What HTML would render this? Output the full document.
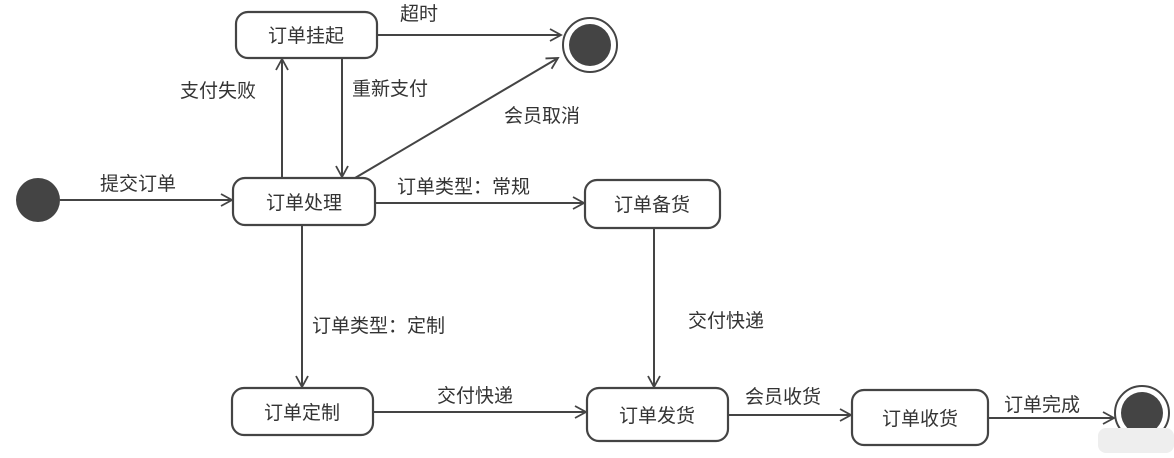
<!DOCTYPE html>
<html><head><meta charset="utf-8"><style>
body{margin:0;background:#fff;}
svg text{font-family:"Liberation Sans","Noto Sans CJK SC",sans-serif;font-size:19px;fill:#333;}
</style></head><body>
<svg width="1174" height="453" viewBox="0 0 1174 453" xmlns="http://www.w3.org/2000/svg">
<defs><marker id="a" markerWidth="14" markerHeight="14" refX="12" refY="7" orient="auto" markerUnits="userSpaceOnUse"><path d="M1,1 L12,7 L1,13" fill="none" stroke="#444" stroke-width="1.8"/></marker></defs>
<rect width="1174" height="453" fill="#fff"/>
<g fill="#fff" stroke="#444" stroke-width="2.2">
<rect x="236" y="12" width="141" height="46" rx="12"/>
<rect x="233" y="178" width="142" height="47" rx="12"/>
<rect x="585" y="180" width="135" height="48" rx="12"/>
<rect x="232" y="388" width="141" height="47" rx="12"/>
<rect x="587" y="388" width="141" height="53" rx="12"/>
<rect x="852" y="390" width="136" height="55" rx="12"/>
</g>
<circle cx="38" cy="200" r="22" fill="#444"/>
<circle cx="590" cy="45" r="27" fill="#fff" stroke="#444" stroke-width="2"/>
<circle cx="590" cy="45" r="21" fill="#444"/>
<circle cx="1142" cy="413" r="27" fill="#fff" stroke="#444" stroke-width="2"/>
<circle cx="1142" cy="413" r="21" fill="#444"/>
<rect x="1098" y="428" width="76" height="25" rx="8" fill="#eee"/>
<g stroke="#444" stroke-width="2" fill="none" marker-end="url(#a)">
<line x1="60" y1="200" x2="232" y2="200"/>
<line x1="282" y1="178" x2="282" y2="59"/>
<line x1="342" y1="58" x2="342" y2="177"/>
<line x1="377" y1="35" x2="561" y2="35"/>
<line x1="355" y1="178" x2="558" y2="58"/>
<line x1="375" y1="203" x2="584" y2="203"/>
<line x1="302" y1="225" x2="302" y2="387"/>
<line x1="373" y1="412" x2="586" y2="412"/>
<line x1="654" y1="228" x2="654" y2="387"/>
<line x1="728" y1="415" x2="851" y2="415"/>
<line x1="988" y1="418" x2="1114" y2="418"/>
</g>
<g text-anchor="middle">
<text x="306" y="42">订单挂起</text>
<text x="304" y="209">订单处理</text>
<text x="652" y="211">订单备货</text>
<text x="302" y="419">订单定制</text>
<text x="657" y="422">订单发货</text>
<text x="920" y="425">订单收货</text>
</g>
<text x="400" y="20">超时</text>
<text x="180" y="97">支付失败</text>
<text x="352" y="95">重新支付</text>
<text x="504" y="122">会员取消</text>
<text x="100" y="190">提交订单</text>
<text x="397" y="193">订单类型：常规</text>
<text x="312" y="332">订单类型：定制</text>
<text x="688" y="327">交付快递</text>
<text x="437" y="402">交付快递</text>
<text x="745" y="403">会员收货</text>
<text x="1004" y="411">订单完成</text>
</svg>
</body></html>
